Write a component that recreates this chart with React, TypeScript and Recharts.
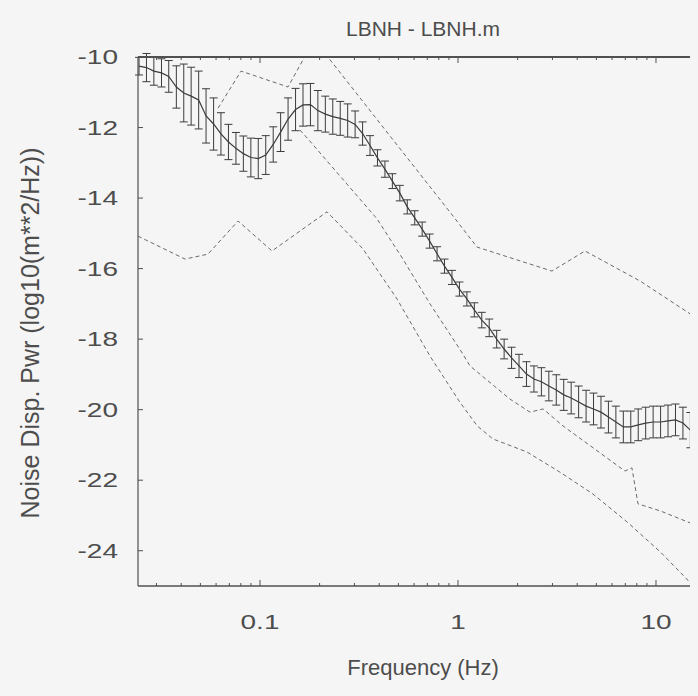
import { ComposedChart, Line, XAxis, YAxis, ErrorBar } from 'recharts';

// frequencies of the averaged spectrum (1/8 octave steps), Hz
const FREQ = [
  0.0245, 0.0267, 0.0291, 0.0318, 0.0346, 0.0378, 0.0412, 0.0449, 0.049, 0.0534,
  0.0583, 0.0635, 0.0693, 0.0756, 0.0824, 0.0899, 0.098, 0.1069, 0.1166, 0.1271,
  0.1386, 0.1512, 0.1649, 0.1798, 0.196, 0.2138, 0.2331, 0.2542, 0.2772, 0.3023,
  0.3297, 0.3595, 0.392, 0.4275, 0.4662, 0.5084, 0.5544, 0.6046, 0.6593, 0.719,
  0.784, 0.855, 0.9324, 1.0168, 1.1088, 1.2091, 1.3186, 1.4379, 1.5681, 1.71,
  1.8648, 2.0336, 2.2176, 2.4183, 2.6372, 2.8759, 3.1362, 3.42, 3.7295, 4.0671,
  4.4352, 4.8366, 5.2744, 5.7517, 6.2723, 6.84, 7.459, 8.1341, 8.8703, 9.6731,
  10.549, 11.503, 12.544, 13.68, 14.918, 16.27,
];

// mean noise power, log10(m**2/Hz)
const MEAN = [
  -10.26, -10.3, -10.4, -10.45, -10.55, -10.85, -11.02, -11.11, -11.22, -11.67,
  -11.9, -12.18, -12.41, -12.59, -12.74, -12.85, -12.88, -12.78, -12.48, -12.13,
  -11.76, -11.49, -11.36, -11.35, -11.52, -11.62, -11.69, -11.74, -11.8, -11.91,
  -12.17, -12.51, -12.86, -13.18, -13.52, -13.86, -14.25, -14.56, -14.88, -15.22,
  -15.58, -15.93, -16.25, -16.58, -16.86, -17.17, -17.46, -17.68, -18.0, -18.28,
  -18.53, -18.76, -18.99, -19.13, -19.21, -19.33, -19.44, -19.58, -19.67, -19.78,
  -19.9, -19.98, -20.07, -20.21, -20.35, -20.49, -20.49, -20.43, -20.38, -20.35,
  -20.35, -20.32, -20.29, -20.38, -20.58, -20.72,
];

// +/- one standard deviation
const ERR = [
  0.25, 0.4, 0.4, 0.4, 0.45, 0.6, 0.82, 0.82, 0.82, 0.77,
  0.74, 0.6, 0.5, 0.45, 0.5, 0.55, 0.57, 0.55, 0.5, 0.55,
  0.6, 0.6, 0.6, 0.6, 0.57, 0.51, 0.5, 0.48, 0.47, 0.38,
  0.33, 0.28, 0.23, 0.23, 0.21, 0.22, 0.2, 0.2, 0.2, 0.2,
  0.2, 0.2, 0.2, 0.2, 0.2, 0.2, 0.22, 0.25, 0.25, 0.28,
  0.3, 0.33, 0.35, 0.37, 0.4, 0.42, 0.43, 0.44, 0.45, 0.45,
  0.45, 0.45, 0.45, 0.45, 0.45, 0.45, 0.45, 0.45, 0.45, 0.45,
  0.45, 0.45, 0.45, 0.45, 0.5, 0.6,
];

// reference curves (dashed)
const HIGH_F = [0.0614, 0.0802, 0.1385, 0.1668, 0.1874, 0.218, 0.944, 1.248, 2.98, 4.38, 8.3, 16.3];
const HIGH_V = [-11.45, -10.4, -10.85, -10.03, -9.35, -9.97, -14.51, -15.39, -16.07, -15.5, -16.35, -17.43];

const MID_F = [0.159, 0.1745, 0.39, 0.527, 0.722, 1.02, 1.15, 1.83, 2.31, 2.69, 3.39, 6.97, 7.56, 8.11, 10.5, 16.3];
const MID_V = [-12.07, -12.32, -14.59, -15.73, -17.0, -18.28, -18.76, -19.7, -20.07, -19.98, -20.46, -21.74, -21.65, -22.67, -22.87, -23.3];

const LOW_F = [0.0242, 0.0418, 0.0546, 0.0775, 0.115, 0.218, 0.331, 0.492, 0.722, 1.02, 1.25, 1.5, 2.23, 3.27, 4.8, 7.13, 10.5, 14.3, 16.3];
const LOW_V = [-15.08, -15.73, -15.59, -14.65, -15.5, -14.39, -15.44, -16.86, -18.48, -19.78, -20.46, -20.83, -21.2, -21.77, -22.39, -23.18, -24.03, -24.8, -25.2];

const X_TICKS = [
  0.03, 0.04, 0.05, 0.06, 0.07, 0.08, 0.09, 0.1, 0.2, 0.3, 0.4, 0.5, 0.6, 0.7, 0.8, 0.9,
  1, 2, 3, 4, 5, 6, 7, 8, 9, 10,
];
const X_LABELS = [0.1, 1, 10];
const Y_TICKS = [-24, -22, -20, -18, -16, -14, -12, -10];

const meanData = FREQ.map((f, i) => ({ f, v: MEAN[i], err: ERR[i] }));
const highData = HIGH_F.map((f, i) => ({ f, v: HIGH_V[i] }));
const midData = MID_F.map((f, i) => ({ f, v: MID_V[i] }));
const lowData = LOW_F.map((f, i) => ({ f, v: LOW_V[i] }));

const W = 690;
const H = 680;
const PLOT_LEFT = 130;
const PLOT_TOP = 49;
const PLOT_BOTTOM = 578;
const FONT = '"Liberation Sans", Arial, sans-serif';
const TEXT = '#4d4d4d';
const AXIS = '#505050';
const BG = '#f5f5f5';
// the scanned tick numbers are noticeably wider than Arial
const WIDEN = 1.4;

const BottomTick = ({ x, payload }: any) => {
  const major = X_LABELS.includes(payload.value);
  return (
    <g>
      <line x1={x} x2={x} y1={PLOT_BOTTOM} y2={PLOT_BOTTOM - (major ? 6 : 3)} stroke={AXIS} strokeWidth={1} />
      {major && (
        <g transform={`translate(${x},${PLOT_BOTTOM + 36}) scale(${WIDEN},1)`}>
          <text x={0} y={0} textAnchor="middle" dominantBaseline="central"
            fill={TEXT} fontSize={20} fontFamily={FONT}>
            {payload.value}
          </text>
        </g>
      )}
    </g>
  );
};

const TopTick = ({ x, payload }: any) => {
  const major = X_LABELS.includes(payload.value);
  return (
    <line x1={x} x2={x} y1={PLOT_TOP} y2={PLOT_TOP + (major ? 6 : 3)} stroke={AXIS} strokeWidth={1} />
  );
};

const LeftTick = ({ y, payload }: any) => (
  <g>
    <line x1={PLOT_LEFT} x2={PLOT_LEFT + 5} y1={y} y2={y} stroke={AXIS} strokeWidth={1} />
    <g transform={`translate(${PLOT_LEFT - 20},${y}) scale(${WIDEN},1)`}>
      <text x={0} y={0} textAnchor="end" dominantBaseline="central"
        fill={TEXT} fontSize={20} fontFamily={FONT}>
        {payload.value}
      </text>
    </g>
  </g>
);

const overlay: React.CSSProperties = {
  position: 'absolute',
  transform: 'translate(-50%, -50%)',
  whiteSpace: 'nowrap',
  fontFamily: FONT,
  color: TEXT,
  lineHeight: 1,
};

export default function App() {
  return (
    <div style={{ position: 'relative', width: W, height: H, overflow: 'hidden', background: BG }}>
      <style>{`body{background:${BG}}`}</style>
      <ComposedChart
        width={W}
        height={H}
        margin={{ top: PLOT_TOP - 1, right: 0, bottom: H - PLOT_BOTTOM - 1, left: PLOT_LEFT - 1 }}
      >
        <XAxis
          dataKey="f"
          type="number"
          scale="log"
          domain={[0.0242, 16.3]}
          allowDataOverflow
          ticks={X_TICKS}
          interval={0}
          height={1}
          tickLine={false}
          axisLine={{ stroke: AXIS, strokeWidth: 1.5 }}
          tick={<BottomTick />}
        />
        <XAxis
          xAxisId="top"
          orientation="top"
          dataKey="f"
          type="number"
          scale="log"
          domain={[0.0242, 16.3]}
          allowDataOverflow
          ticks={X_TICKS}
          interval={0}
          height={1}
          tickLine={false}
          axisLine={{ stroke: AXIS, strokeWidth: 1.8 }}
          tick={<TopTick />}
        />
        <YAxis
          type="number"
          domain={[-25, -10]}
          allowDataOverflow
          ticks={Y_TICKS}
          interval={0}
          width={1}
          tickLine={false}
          axisLine={{ stroke: AXIS, strokeWidth: 1.2 }}
          tick={<LeftTick />}
        />
        <Line data={highData} dataKey="v" stroke="#6a6a6a" strokeWidth={1} strokeDasharray="4 3"
          dot={false} type="linear" isAnimationActive={false} />
        <Line data={midData} dataKey="v" stroke="#6a6a6a" strokeWidth={1} strokeDasharray="4 3"
          dot={false} type="linear" isAnimationActive={false} />
        <Line data={lowData} dataKey="v" stroke="#6a6a6a" strokeWidth={1} strokeDasharray="4 3"
          dot={false} type="linear" isAnimationActive={false} />
        <Line data={meanData} dataKey="v" stroke="#3c3c3c" strokeWidth={1.2}
          dot={false} type="linear" isAnimationActive={false}>
          <ErrorBar dataKey="err" direction="y" width={4} stroke="#3c3c3c" strokeWidth={1}
            isAnimationActive={false} />
        </Line>
      </ComposedChart>
      <div style={{ ...overlay, left: 415, top: 20, fontSize: 21 }}>LBNH - LBNH.m</div>
      <div style={{ ...overlay, left: 415, top: 660, fontSize: 22 }}>Frequency (Hz)</div>
      <div style={{ ...overlay, left: 22, top: 325, fontSize: 25, transform: 'translate(-50%, -50%) rotate(-90deg)' }}>
        Noise Disp. Pwr (log10(m**2/Hz))
      </div>
    </div>
  );
}
